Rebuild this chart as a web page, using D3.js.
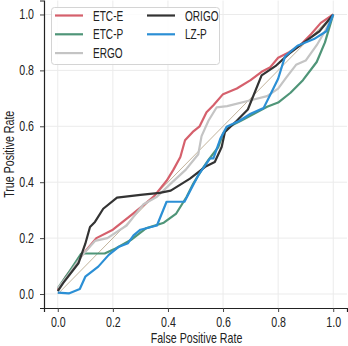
<!DOCTYPE html>
<html>
<head>
<meta charset="utf-8">
<script src="https://cdn.jsdelivr.net/npm/d3@7"></script>
<style>
  html, body { margin: 0; padding: 0; background: #fff; }
  svg { display: block; font-family: "Liberation Sans", Arial, Helvetica, sans-serif; }
</style>
</head>
<body>
<svg id="chart" width="348" height="346"></svg>
<script>
// ROC curves: [false positive rate, true positive rate]
const etcE = [[0,0.015],[0.03,0.063],[0.085,0.135],[0.14,0.2],[0.2,0.23],[0.27,0.285],[0.32,0.325],[0.35,0.35],[0.395,0.405],[0.42,0.445],[0.445,0.49],[0.462,0.55],[0.49,0.58],[0.515,0.6],[0.54,0.65],[0.565,0.675],[0.6,0.715],[0.65,0.735],[0.7,0.765],[0.74,0.795],[0.77,0.81],[0.8,0.845],[0.84,0.865],[0.88,0.89],[0.92,0.93],[0.955,0.97],[1,1]];
const etcP = [[0,0.02],[0.045,0.085],[0.085,0.145],[0.17,0.145],[0.21,0.163],[0.265,0.193],[0.32,0.235],[0.385,0.255],[0.43,0.288],[0.468,0.348],[0.492,0.395],[0.522,0.443],[0.547,0.48],[0.583,0.526],[0.6,0.574],[0.625,0.6],[0.665,0.62],[0.76,0.67],[0.8,0.685],[0.845,0.72],[0.89,0.765],[0.94,0.83],[0.97,0.9],[1,1]];
const ergo = [[0,0.02],[0.04,0.07],[0.09,0.14],[0.135,0.19],[0.18,0.2],[0.25,0.245],[0.31,0.32],[0.36,0.348],[0.41,0.395],[0.465,0.445],[0.51,0.5],[0.522,0.565],[0.547,0.62],[0.577,0.668],[0.615,0.672],[0.7,0.693],[0.76,0.708],[0.8,0.735],[0.83,0.775],[0.865,0.82],[0.9,0.835],[0.94,0.89],[0.97,0.94],[1,1]];
const origo = [[0,0.01],[0.02,0.04],[0.075,0.11],[0.1,0.18],[0.117,0.24],[0.135,0.258],[0.165,0.305],[0.215,0.345],[0.3,0.355],[0.37,0.362],[0.41,0.37],[0.48,0.413],[0.535,0.455],[0.57,0.472],[0.595,0.526],[0.607,0.58],[0.65,0.62],[0.69,0.66],[0.74,0.782],[0.79,0.815],[0.84,0.86],[0.9,0.905],[0.95,0.94],[1,1]];
const lzP = [[0,0.005],[0.04,0.002],[0.08,0.018],[0.1,0.062],[0.147,0.098],[0.185,0.14],[0.22,0.168],[0.255,0.182],[0.275,0.21],[0.3,0.23],[0.36,0.245],[0.395,0.33],[0.46,0.33],[0.51,0.425],[0.553,0.485],[0.565,0.485],[0.59,0.555],[0.613,0.598],[0.66,0.62],[0.7,0.645],[0.747,0.665],[0.775,0.72],[0.8,0.77],[0.825,0.85],[0.87,0.888],[0.93,0.912],[0.975,0.94],[1,1]];

const seriesNames = ["ETC-E", "ETC-P", "ERGO", "ORIGO", "LZ-P"];
const seriesData = [etcE, etcP, ergo, origo, lzP];
const seriesColors = ["#d5606c", "#4f9578", "#c4c4c4", "#333333", "#2b8fd5"];
const tickValues = [0, 0.2, 0.4, 0.6, 0.8, 1.0];

// narrow lettering: horizontal squeeze applied to a regular sans face
const narrow = 0.76;

const svg = d3.select("#chart");
const plotLeft = 44, plotRight = 347, plotTop = 0.5, plotBottom = 308;

const x = d3.scaleLinear().domain([-0.05, 1.05]).range([plotLeft, plotRight]);
const y = d3.scaleLinear().domain([-0.05, 1.05]).range([plotBottom, plotTop]);

// grid
const grid = svg.append("g");
grid.selectAll("line.vx").data(tickValues).join("line")
  .attr("x1", d => x(d)).attr("x2", d => x(d))
  .attr("y1", plotTop).attr("y2", plotBottom)
  .attr("stroke", "#ebebeb").attr("stroke-width", 1);
grid.selectAll("line.hy").data(tickValues).join("line")
  .attr("x1", plotLeft).attr("x2", plotRight)
  .attr("y1", d => y(d)).attr("y2", d => y(d))
  .attr("stroke", "#ebebeb").attr("stroke-width", 1);

// axes
const fmt = d3.format(".1f");
const xAxis = svg.append("g").attr("transform", `translate(0,${plotBottom})`)
  .call(d3.axisBottom(x).tickValues(tickValues).tickFormat(fmt).tickSizeOuter(0).tickSize(4).tickPadding(5));
const yAxis = svg.append("g").attr("transform", `translate(${plotLeft},0)`)
  .call(d3.axisLeft(y).tickValues(tickValues).tickFormat(fmt).tickSizeOuter(0).tickSize(4).tickPadding(6));
[xAxis, yAxis].forEach(a => {
  a.select(".domain").attr("stroke", "#222").attr("stroke-width", 1.2);
  a.selectAll(".tick line").attr("stroke", "#444");
  a.selectAll(".tick text").attr("fill", "#222")
    .style("font-family", '"Liberation Sans", Arial, sans-serif')
    .style("font-size", "14px")
    .attr("transform", `scale(${narrow},1)`);
});
yAxis.selectAll(".tick text").attr("x", -10 / narrow);

// chance diagonal
svg.append("line")
  .attr("x1", x(0)).attr("y1", y(0)).attr("x2", x(1)).attr("y2", y(1))
  .attr("stroke", "#a89270").attr("stroke-width", 0.7);

// curves
const line = d3.line().x(d => x(d[0])).y(d => y(d[1]));
seriesData.forEach((data, i) => {
  svg.append("path")
    .datum(data)
    .attr("d", line)
    .attr("fill", "none")
    .attr("stroke", seriesColors[i])
    .attr("stroke-width", 2.2)
    .attr("stroke-linejoin", "round");
});

// axis titles
svg.append("text")
  .attr("transform", `translate(${(plotLeft + plotRight) / 2 + 1},342.8) scale(${narrow},1)`)
  .attr("text-anchor", "middle").attr("fill", "#222")
  .style("font-size", "14px")
  .text("False Positive Rate");
svg.append("text")
  .attr("transform", `translate(14,${(plotTop + plotBottom) / 2}) rotate(-90) scale(${narrow},1)`)
  .attr("text-anchor", "middle").attr("fill", "#222")
  .style("font-size", "14px")
  .text("True Positive Rate");

// legend
const legend = svg.append("g");
legend.append("rect")
  .attr("x", 51.5).attr("y", 7.5).attr("width", 168).attr("height", 57)
  .attr("rx", 3).attr("fill", "#fff").attr("fill-opacity", 0.85)
  .attr("stroke", "#d4d4d4");
seriesNames.forEach((name, i) => {
  const col = i < 3 ? 0 : 1;
  const row = i < 3 ? i : i - 3;
  const lx = col === 0 ? 55 : 147;
  const ly = 15.5 + row * 18.8;
  legend.append("line")
    .attr("x1", lx).attr("x2", lx + 28).attr("y1", ly).attr("y2", ly)
    .attr("stroke", seriesColors[i]).attr("stroke-width", 2.2);
  legend.append("text")
    .attr("transform", `translate(${lx + 38},${ly + 5}) scale(${narrow - 0.04},1)`)
    .attr("fill", "#222").style("font-size", "14px")
    .text(name);
});
</script>
</body>
</html>
